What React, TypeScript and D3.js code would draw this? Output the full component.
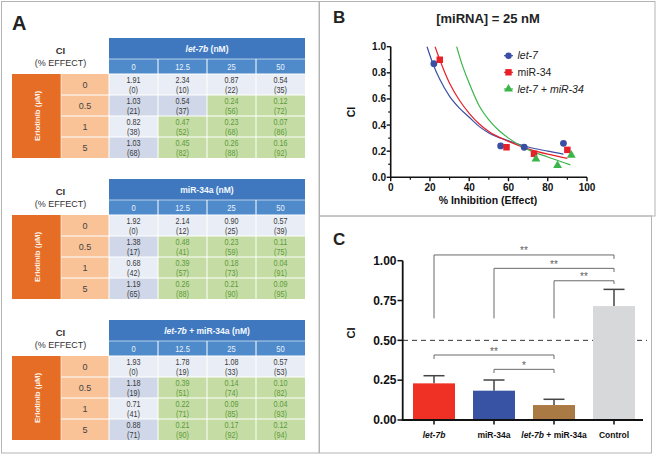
import React from "react";
import * as d3 from "d3";

// ---------- DATA ----------
const doses = ["0", "12.5", "25", "50"];
const erlotinibDoses = ["0", "0.5", "1", "5"];

const let7bCI = [
  [1.91, 2.34, 0.87, 0.54],
  [1.03, 0.54, 0.24, 0.12],
  [0.82, 0.47, 0.23, 0.07],
  [1.03, 0.45, 0.26, 0.16],
];
const let7bEffect = [
  [0, 10, 22, 35],
  [21, 37, 56, 72],
  [38, 52, 68, 86],
  [68, 82, 88, 92],
];
const mir34CI = [
  [1.92, 2.14, 0.9, 0.57],
  [1.38, 0.48, 0.23, 0.11],
  [0.68, 0.39, 0.18, 0.04],
  [1.19, 0.26, 0.21, 0.09],
];
const mir34Effect = [
  [0, 12, 25, 39],
  [17, 41, 59, 75],
  [42, 57, 73, 91],
  [65, 88, 90, 95],
];
const comboCI = [
  [1.93, 1.78, 1.08, 0.57],
  [1.18, 0.39, 0.14, 0.1],
  [0.71, 0.22, 0.09, 0.04],
  [0.88, 0.21, 0.17, 0.12],
];
const comboEffect = [
  [0, 19, 33, 53],
  [19, 51, 74, 82],
  [41, 71, 85, 93],
  [71, 90, 92, 94],
];

// Panel B points (% inhibition, CI)
const let7Points = [[22, 0.87], [56, 0.24], [68, 0.23], [88, 0.26]];
const mir34Points = [[25, 0.9], [59, 0.23], [73, 0.18], [90, 0.21]];
const comboPoints = [[74, 0.14], [85, 0.09], [92, 0.17]];
// Panel B fitted curves
const let7Curve = [[18.5, 1.0], [21.5, 0.87], [25, 0.75], [30, 0.62], [35, 0.53], [40, 0.46], [45, 0.39], [50, 0.34], [60, 0.28], [70, 0.232], [80, 0.2], [88, 0.177]];
const mir34Curve = [[22.6, 1.0], [25, 0.9], [30, 0.72], [35, 0.59], [40, 0.49], [45, 0.41], [50, 0.35], [60, 0.275], [70, 0.218], [80, 0.177], [90, 0.145]];
const comboCurve = [[33.6, 1.0], [36, 0.88], [40, 0.72], [45, 0.55], [50, 0.44], [55, 0.36], [60, 0.3], [70, 0.212], [80, 0.155], [91.5, 0.095]];
const legendLabels = ["let-7", "miR-34", "let-7 + miR-34"];
const bTicksX = [0, 20, 40, 60, 80, 100];
const bTicksY = [0, 0.2, 0.4, 0.6, 0.8, 1.0];

// Panel C
const groups = ["let-7b", "miR-34a", "combo", "Control"];
const barMeans = [0.23, 0.184, 0.094, 0.715];
const barErrors = [0.278, 0.251, 0.13, 0.82];
const cTicksY = [0, 0.25, 0.5, 0.75, 1.0];
const brackets = [
  { a: "let-7b", b: "Control", level: 1.036, dropA: 0.638, dropB: 1.011, label: "**" },
  { a: "miR-34a", b: "Control", level: 0.952, dropA: 0.638, dropB: 0.929, label: "**" },
  { a: "combo", b: "Control", level: 0.874, dropA: 0.638, dropB: 0.854, label: "**" },
  { a: "let-7b", b: "combo", level: 0.408, dropA: 0.383, dropB: 0.383, label: "**" },
  { a: "miR-34a", b: "combo", level: 0.318, dropA: 0.295, dropB: 0.295, label: "*" },
];

// ---------- STYLE ----------
const FONT = "'Liberation Sans', Arial, Helvetica, sans-serif";
const FRAME = "#b4b4b4";
const HEADER = "#3f78bf";
const SUBHEADER = "#4f8bcb";
const ROW_LIGHT = "#e9edf5";
const ROW_DARK = "#cfd7e8";
const GREEN = "#c5dda5";
const GREEN_TEXT = "#5c9a3a";
const ORANGE = "#e56d25";
const ORANGE_LIGHT = "#f9c297";
const C_BLUE = "#3a4fa3";
const C_RED = "#e8202a";
const C_GREEN = "#3bb54a";
const BAR_COLORS = ["#ee3124", "#3953a4", "#a97a43", "#d7d8d9"];
const SQUEEZE = 0.84;

function NarrowText({ x, y, fill, size, children }: { x: number; y: number; fill: string; size: number; children: React.ReactNode }) {
  return (
    <text transform={`translate(${x},${y}) scale(${SQUEEZE},1)`} textAnchor="middle" fontSize={size} fill={fill}>
      {children}
    </text>
  );
}

function Table({ top, title, ci, eff }: { top: number; title: React.ReactNode; ci: number[][]; eff: number[][] }) {
  const x = d3.scaleBand<string>().domain(doses).range([109, 305]);
  const y = d3.scaleBand<string>().domain(erlotinibDoses).range([top + 36, top + 120]);
  return (
    <g fontFamily={FONT}>
      <text x={60.5} y={top + 16} textAnchor="middle" fontSize={9.5} fontWeight="bold" fill="#333">CI</text>
      <text x={60.5} y={top + 28} textAnchor="middle" fontSize={9} fill="#333">(% EFFECT)</text>
      <rect x={109} y={top} width={196} height={21} fill={HEADER} />
      <text x={207} y={top + 13.5} textAnchor="middle" fontSize={8.5} fontWeight="bold" fill="#f4f8ff">{title}</text>
      <rect x={109} y={top + 21} width={196} height={15} fill={SUBHEADER} />
      {doses.map((d) => (
        <NarrowText key={d} x={(x(d) as number) + x.bandwidth() / 2} y={top + 31.5} size={9} fill="#eaf2fc">{d}</NarrowText>
      ))}
      <rect x={12} y={top + 36} width={49} height={84} fill={ORANGE} />
      <text transform={`translate(39.5,${top + 78}) rotate(-90)`} textAnchor="middle" fontSize={7.8} fontWeight="bold" fill="#fff2e8">Erlotinib (µM)</text>
      {erlotinibDoses.map((e, i) => (
        <g key={e}>
          <rect x={61} y={y(e)} width={48} height={y.bandwidth()} fill={ORANGE_LIGHT} />
          <text x={85} y={(y(e) as number) + 13.5} textAnchor="middle" fontSize={9} fill="#444">{e}</text>
          {doses.map((d, j) => {
            const v = ci[i][j];
            const green = v < 0.5;
            const fill = green ? GREEN : i % 2 === 0 ? ROW_LIGHT : ROW_DARK;
            const tc = green ? GREEN_TEXT : "#3a3a3a";
            const cx = (x(d) as number) + x.bandwidth() / 2;
            return (
              <g key={d}>
                <rect x={x(d)} y={y(e)} width={x.bandwidth()} height={y.bandwidth()} fill={fill} />
                <NarrowText x={cx} y={(y(e) as number) + 9.3} size={8.6} fill={tc}>{v.toFixed(2)}</NarrowText>
                <NarrowText x={cx} y={(y(e) as number) + 18.8} size={8.6} fill={tc}>({eff[i][j]})</NarrowText>
              </g>
            );
          })}
        </g>
      ))}
      {doses.slice(1).map((d) => (
        <line key={d} x1={x(d)} x2={x(d)} y1={top + 21} y2={top + 120} stroke="#fff" strokeWidth={1} />
      ))}
      {erlotinibDoses.slice(1).map((e) => (
        <line key={e} x1={61} x2={305} y1={y(e)} y2={y(e)} stroke="#fff" strokeWidth={1} />
      ))}
      <line x1={109} x2={305} y1={top + 21} y2={top + 21} stroke="#fff" strokeWidth={0.6} />
      <line x1={109} x2={305} y1={top + 36} y2={top + 36} stroke="#fff" strokeWidth={1} />
      <line x1={61} x2={61} y1={top + 36} y2={top + 120} stroke="#fff" strokeWidth={0.6} />
      <line x1={109} x2={109} y1={top + 36} y2={top + 120} stroke="#fff" strokeWidth={1} />
    </g>
  );
}

function PanelB() {
  const x = d3.scaleLinear().domain([0, 100]).range([390.7, 587]);
  const y = d3.scaleLinear().domain([0, 1]).range([177.3, 46.7]);
  const line = d3.line<number[]>().x((d) => x(d[0])).y((d) => y(d[1])).curve(d3.curveMonotoneX);
  const minorX = d3.range(10, 100, 20);
  const minorY = d3.range(0.1, 1.0, 0.2);
  const tri = d3.symbol().type(d3.symbolTriangle).size(34)() as string;
  const sq = 6.5;
  const legY = [55.7, 72.3, 89];
  const legColors = [C_BLUE, C_RED, C_GREEN];
  return (
    <g fontFamily={FONT}>
      <text x={333} y={23} fontSize={17} fontWeight="bold" fill="#222">B</text>
      <text x={488} y={23} textAnchor="middle" fontSize={13} fontWeight="bold" fill="#222">[miRNA] = 25 nM</text>
      <path d={line(let7Curve) as string} fill="none" stroke={C_BLUE} strokeWidth={1.2} />
      <path d={line(mir34Curve) as string} fill="none" stroke={C_RED} strokeWidth={1.2} />
      <path d={line(comboCurve) as string} fill="none" stroke={C_GREEN} strokeWidth={1.2} />
      {let7Points.map((p, i) => (
        <circle key={i} cx={x(p[0])} cy={y(p[1])} r={3.4} fill={C_BLUE} />
      ))}
      {mir34Points.map((p, i) => (
        <rect key={i} x={x(p[0]) - sq / 2} y={y(p[1]) - sq / 2} width={sq} height={sq} fill={C_RED} />
      ))}
      {comboPoints.map((p, i) => (
        <path key={i} d={tri} transform={`translate(${x(p[0])},${y(p[1])})`} fill={C_GREEN} />
      ))}
      <line x1={x(0)} x2={x(0)} y1={y(0) + 0.8} y2={y(1)} stroke="#111" strokeWidth={1.6} />
      <line x1={x(0) - 0.8} x2={x(100)} y1={y(0)} y2={y(0)} stroke="#111" strokeWidth={1.6} />
      {bTicksY.map((t) => (
        <g key={t}>
          <line x1={x(0) - 4} x2={x(0)} y1={y(t)} y2={y(t)} stroke="#111" strokeWidth={1.4} />
          <text x={386} y={y(t) + 3.5} textAnchor="end" fontSize={10} fontWeight="bold" fill="#111">{t.toFixed(1)}</text>
        </g>
      ))}
      {minorY.map((t) => (
        <line key={t} x1={x(0) - 2.5} x2={x(0)} y1={y(t)} y2={y(t)} stroke="#111" strokeWidth={1.2} />
      ))}
      {bTicksX.map((t) => (
        <g key={t}>
          <line x1={x(t)} x2={x(t)} y1={y(0)} y2={y(0) + 4} stroke="#111" strokeWidth={1.4} />
          <text x={x(t)} y={190.5} textAnchor="middle" fontSize={10} fontWeight="bold" fill="#111">{t}</text>
        </g>
      ))}
      {minorX.map((t) => (
        <line key={t} x1={x(t)} x2={x(t)} y1={y(0)} y2={y(0) + 2.5} stroke="#111" strokeWidth={1.2} />
      ))}
      <text x={488} y={203.5} textAnchor="middle" fontSize={10.5} fontWeight="bold" fill="#111">% Inhibition (Effect)</text>
      <text transform="translate(354.5,112) rotate(-90)" textAnchor="middle" fontSize={10.5} fontWeight="bold" fill="#111">CI</text>
      {legendLabels.map((l, i) => (
        <g key={l}>
          <line x1={504} x2={513} y1={legY[i]} y2={legY[i]} stroke={legColors[i]} strokeWidth={1.2} />
          {i === 0 && <circle cx={508.5} cy={legY[i]} r={3.2} fill={C_BLUE} />}
          {i === 1 && <rect x={508.5 - 3.2} y={legY[i] - 3.2} width={6.4} height={6.4} fill={C_RED} />}
          {i === 2 && <path d={tri} transform={`translate(508.5,${legY[i]})`} fill={C_GREEN} />}
          <text x={517.5} y={legY[i] + 3.7} fontSize={10.5} fontStyle={i === 1 ? "normal" : "italic"} fill="#222">{l}</text>
        </g>
      ))}
    </g>
  );
}

function PanelC() {
  const y = d3.scaleLinear().domain([0, 1]).range([420, 260.7]);
  const x = d3.scaleBand<string>().domain(groups).range([404, 644]).paddingInner(0.3).paddingOuter(0.15);
  const cx = (g: string) => (x(g) as number) + x.bandwidth() / 2;
  return (
    <g fontFamily={FONT}>
      <text x={333} y={245} fontSize={17} fontWeight="bold" fill="#222">C</text>
      <line x1={403} x2={647} y1={y(0.5)} y2={y(0.5)} stroke="#333" strokeWidth={1} strokeDasharray="5,4" />
      {groups.map((g, i) => (
        <g key={g}>
          <rect x={x(g)} y={y(barMeans[i])} width={x.bandwidth()} height={y(0) - y(barMeans[i])} fill={BAR_COLORS[i]} />
          <line x1={cx(g)} x2={cx(g)} y1={y(barMeans[i])} y2={y(barErrors[i])} stroke="#444" strokeWidth={1.5} />
          <line x1={cx(g) - 10.5} x2={cx(g) + 10.5} y1={y(barErrors[i])} y2={y(barErrors[i])} stroke="#444" strokeWidth={1.5} />
          <line x1={cx(g)} x2={cx(g)} y1={y(0)} y2={y(0) + 4.5} stroke="#111" strokeWidth={1.5} />
        </g>
      ))}
      {brackets.map((b, i) => {
        const xa = cx(b.a);
        const xb = cx(b.b);
        return (
          <g key={i}>
            <path d={`M${xa},${y(b.dropA)}V${y(b.level)}H${xb}V${y(b.dropB)}`} fill="none" stroke="#6a6a6a" strokeWidth={1} />
            <text x={(xa + xb) / 2} y={y(b.level) - 0.5} textAnchor="middle" fontSize={10} fill="#606060">{b.label}</text>
          </g>
        );
      })}
      <line x1={402.7} x2={402.7} y1={y(0) + 0.9} y2={y(1)} stroke="#111" strokeWidth={1.8} />
      <line x1={401.8} x2={643} y1={y(0)} y2={y(0)} stroke="#111" strokeWidth={1.8} />
      {cTicksY.map((t) => (
        <g key={t}>
          <line x1={397.5} x2={402.7} y1={y(t)} y2={y(t)} stroke="#111" strokeWidth={1.5} />
          <text x={396.5} y={y(t) + 4.2} textAnchor="end" fontSize={12} fontWeight="bold" fill="#111">{t.toFixed(2)}</text>
        </g>
      ))}
      <text transform="translate(354.5,333) rotate(-90)" textAnchor="middle" fontSize={11} fontWeight="bold" fill="#111">CI</text>
      <text x={cx("let-7b")} y={437.5} textAnchor="middle" fontSize={8.5} fontWeight="bold" fontStyle="italic" fill="#111">let-7b</text>
      <text x={cx("miR-34a")} y={437.5} textAnchor="middle" fontSize={8.5} fontWeight="bold" fill="#111">miR-34a</text>
      <text x={cx("combo")} y={437.5} textAnchor="middle" fontSize={8.5} fontWeight="bold" fill="#111">
        <tspan fontStyle="italic">let-7b</tspan> + miR-34a
      </text>
      <text x={cx("Control")} y={437.5} textAnchor="middle" fontSize={8.5} fontWeight="bold" fill="#111">Control</text>
    </g>
  );
}

export default function App() {
  return (
    <svg width={659} height={455} style={{ position: "absolute", left: 0, top: 0, background: "#fff" }}>
      <rect x={0} y={0} width={659} height={455} fill="#fff" />
      <rect x={1.5} y={1.5} width={317.5} height={451.5} fill="none" stroke={FRAME} strokeWidth={1} />
      <rect x={319.5} y={1.5} width={335.5} height={214.5} fill="none" stroke={FRAME} strokeWidth={1} />
      <rect x={319.5} y={216} width={332} height={237} fill="none" stroke={FRAME} strokeWidth={1} />
      <text x={12} y={30} fontFamily={FONT} fontSize={20} fontWeight="bold" fill="#222">A</text>
      <Table top={38} title={<><tspan fontStyle="italic">let-7b</tspan> (nM)</>} ci={let7bCI} eff={let7bEffect} />
      <Table top={179} title={<>miR-34a (nM)</>} ci={mir34CI} eff={mir34Effect} />
      <Table top={320} title={<><tspan fontStyle="italic">let-7b</tspan> + miR-34a (nM)</>} ci={comboCI} eff={comboEffect} />
      <PanelB />
      <PanelC />
    </svg>
  );
}
